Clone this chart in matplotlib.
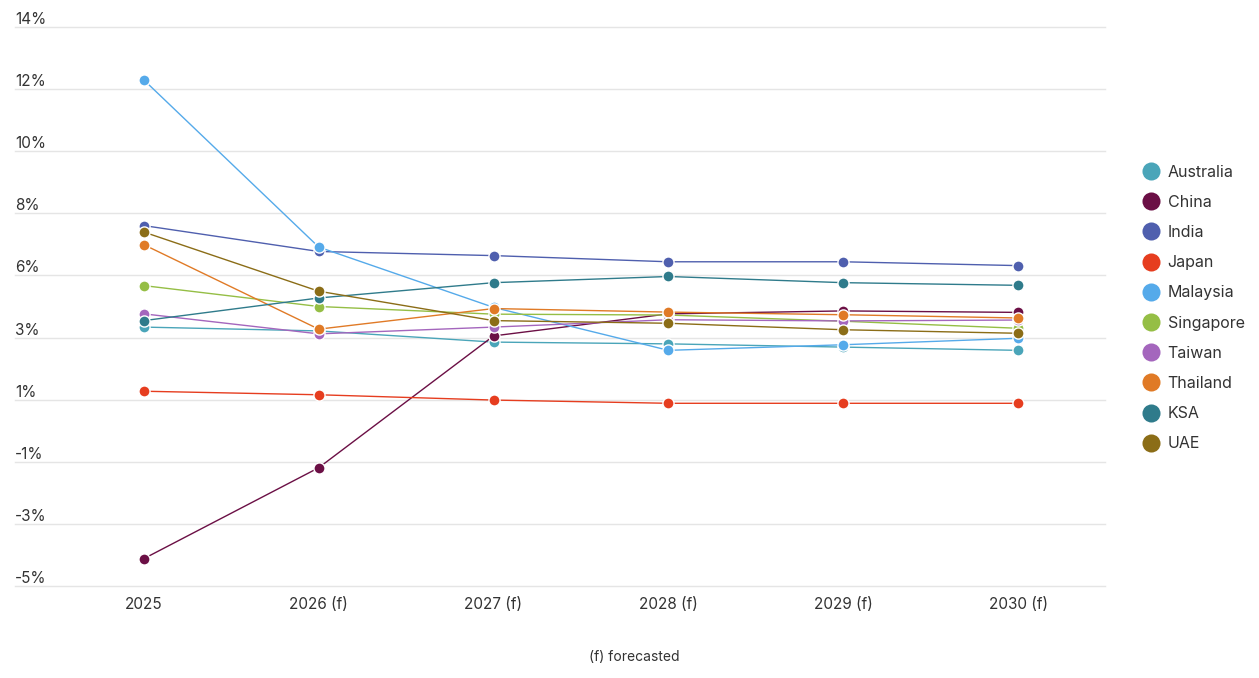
import matplotlib.pyplot as plt
import numpy as np

plt.rcParams['font.family'] = ['Inter', 'DejaVu Sans']

years = ["2025", "2026 (f)", "2027 (f)", "2028 (f)", "2029 (f)", "2030 (f)"]

australia = [3.80, 3.67, 3.29, 3.23, 3.12, 3.01]
china = [-4.07, -0.98, 3.50, 4.25, 4.35, 4.30]
india = [7.25, 6.37, 6.23, 6.02, 6.02, 5.89]
japan = [1.62, 1.50, 1.32, 1.21, 1.21, 1.21]
malaysia = [12.20, 6.52, 4.47, 3.01, 3.20, 3.42]
singapore = [5.21, 4.50, 4.24, 4.21, 4.00, 3.76]
taiwan = [4.25, 3.57, 3.80, 4.05, 4.01, 4.04]
thailand = [6.60, 3.73, 4.43, 4.31, 4.22, 4.11]
ksa = [4.02, 4.79, 5.31, 5.52, 5.31, 5.22]
uae = [7.03, 5.02, 4.02, 3.93, 3.71, 3.59]

names = ["Australia", "China", "India", "Japan", "Malaysia", "Singapore",
         "Taiwan", "Thailand", "KSA", "UAE"]
series = [australia, china, india, japan, malaysia, singapore,
          taiwan, thailand, ksa, uae]
colors = ["#4aa5b9", "#6b0f45", "#4f5fae", "#e63d1f", "#55aaea", "#95be45",
          "#a466bd", "#e07a26", "#2f7b8b", "#8b6d17"]

fig = plt.figure(figsize=(12.59, 6.78), dpi=100)
ax = fig.add_axes([15 / 1259, 1 - 586 / 678, 1090 / 1259, 559 / 678])

x = np.arange(len(years))
for name, vals, c in zip(names, series, colors):
    ax.plot(x, vals, color=c, lw=1, marker='o', markersize=8,
            markeredgecolor='white', markeredgewidth=1, label=name, zorder=3)

ax.set_xlim(-0.737, 5.497)
ax.set_ylim(-5, 14)

# y gridlines with rounded labels sitting above them
yt = np.linspace(-5, 14, 10)
for v in yt:
    ax.axhline(v, color='#e5e5e5', lw=1, zorder=1, clip_on=False)
    ax.text(0, v, f"{int(round(v))}%", transform=ax.get_yaxis_transform(),
            ha='left', va='bottom', fontsize=11, color='#333333')
ax.set_yticks([])

ax.set_xticks(x)
ax.set_xticklabels(years, fontsize=11, color='#333333')
ax.tick_params(axis='x', length=0, pad=8)
for s in ax.spines.values():
    s.set_visible(False)

leg = fig.legend(loc='center left', bbox_to_anchor=(1130 / 1259, 1 - 308 / 678),
                 frameon=False, fontsize=11.5, handlelength=0.8, handletextpad=0.65,
                 labelspacing=0.95, labelcolor='#333333')
for h in leg.legend_handles:
    h.set_linestyle('none')
    h.set_markersize(13)
    h.set_markeredgewidth(0)

fig.text(634 / 1259, 1 - 657 / 678, "(f) forecasted", ha='center', va='center',
         fontsize=10, color='#333333')

fig.savefig("out.png", dpi=100)
